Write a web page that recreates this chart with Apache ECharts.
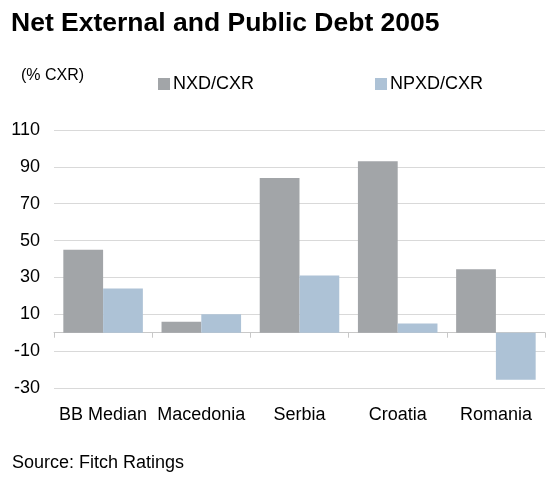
<!DOCTYPE html>
<html>
<head>
<meta charset="utf-8">
<script src="https://cdn.jsdelivr.net/npm/echarts@6/dist/echarts.min.js"></script>
<style>
  html, body { margin: 0; padding: 0; background: #fff; }
  #chart { width: 557px; height: 488px; }
</style>
</head>
<body>
<div id="chart"></div>
<script>
var countries = ['BB Median', 'Macedonia', 'Serbia', 'Croatia', 'Romania']
var nxd = [45, 6, 84, 93, 34.5]
var npxd = [24, 10, 31, 5, -25.5]
var yTicks = [-30, -10, 10, 30, 50, 70, 90, 110]

var font = 'Arial, "Liberation Sans", sans-serif'
var chart = echarts.init(document.getElementById('chart'))
var option = {
  animation: false,
  title: [{
    text: 'Net External and Public Debt 2005',
    left: 11, top: 10, padding: 0,
    textStyle: { fontFamily: font, fontSize: 26.5, fontWeight: 'bold', color: '#000' }
  }, {
    text: '(% CXR)',
    left: 21, top: 68, padding: 0,
    textStyle: { fontFamily: font, fontSize: 16, fontWeight: 'normal', color: '#000' }
  }, {
    text: 'Source: Fitch Ratings',
    left: 12, top: 454, padding: 0,
    textStyle: { fontFamily: font, fontSize: 18, fontWeight: 'normal', color: '#000' }
  }],
  legend: [{
    data: ['NXD/CXR'],
    left: 158, top: 75, padding: 0,
    itemWidth: 12, itemHeight: 12,
    icon: 'rect',
    textStyle: { fontFamily: font, fontSize: 18, color: '#000', padding: [0, 0, 0, -2] }
  }, {
    data: ['NPXD/CXR'],
    left: 375, top: 75, padding: 0,
    itemWidth: 12, itemHeight: 12,
    icon: 'rect',
    textStyle: { fontFamily: font, fontSize: 18, color: '#000', padding: [0, 0, 0, -2] }
  }],
  grid: { left: 54, right: 12, top: 130, bottom: 100 },
  xAxis: {
    type: 'category',
    data: countries,
    axisLine: { onZero: true, lineStyle: { color: '#c8c8c8', width: 1 } },
    axisTick: { show: true, length: 5, lineStyle: { color: '#c8c8c8' } },
    axisLabel: { interval: 0, margin: 18, fontFamily: font, fontSize: 18, color: '#000' }
  },
  yAxis: {
    type: 'value',
    min: yTicks[0],
    max: yTicks[yTicks.length - 1],
    interval: 20,
    axisLine: { show: false },
    axisTick: { show: false },
    splitLine: { lineStyle: { color: '#d9d9d9', width: 1 } },
    axisLabel: { margin: 14, fontFamily: font, fontSize: 18, color: '#000' }
  },
  series: [{
    name: 'NXD/CXR',
    type: 'bar',
    data: nxd,
    barGap: 0,
    barCategoryGap: '19%',
    itemStyle: { color: '#a2a5a8' }
  }, {
    name: 'NPXD/CXR',
    type: 'bar',
    data: npxd,
    itemStyle: { color: '#adc2d6' }
  }]
}
chart.setOption(option)
</script>
</body>
</html>
